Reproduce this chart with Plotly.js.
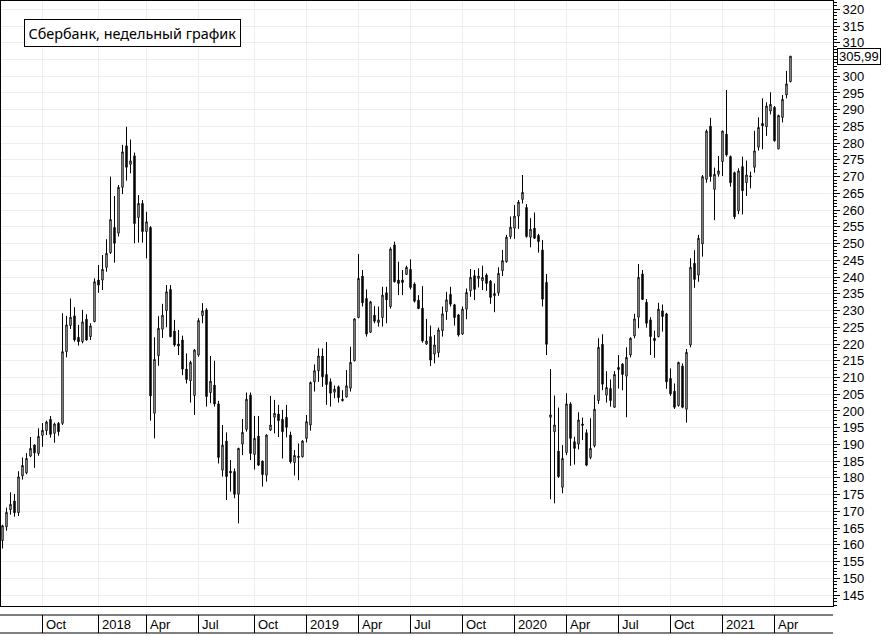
<!DOCTYPE html>
<html><head><meta charset="utf-8">
<script src="https://cdn.plot.ly/plotly-3.0.1.min.js"></script>
<style>html,body{margin:0;padding:0;background:#fff;}#chart{width:889px;height:636px;}</style>
</head><body><div id="chart"></div>
<script>
const firstWeek = '2017-07-24';
const open = [161.3,165.4,170.5,173.1,169.6,180.6,181.5,186.5,189.8,187.3,
192.7,194.1,197.5,193.3,196.3,196.3,217.7,225.5,228.4,222.0,
220.7,227.4,222.2,226.7,239.1,239.1,242.9,247.3,254.8,253.1,
266.8,279.2,273.7,276.2,257.8,262.0,253.6,254.8,199.3,216.5,
224.4,230.0,236.3,223.9,220.0,221.2,212.5,209.0,204.6,216.7,
228.5,230.2,205.5,207.7,202.1,182.3,191.0,182.0,181.9,175.1,
190.1,194.5,204.7,187.0,192.5,185.0,180.8,194.3,198.1,199.1,
197.5,198.1,192.8,184.6,186.1,186.3,191.8,195.8,208.7,212.0,
216.4,210.9,208.7,205.6,207.2,203.5,204.2,206.8,215.0,227.9,
240.3,233.6,223.5,228.6,226.4,227.9,235.3,231.2,249.6,239.1,
239.1,240.8,242.3,237.9,233.1,230.7,220.0,222.2,217.0,217.4,
224.0,229.7,234.8,231.7,228.7,223.0,230.4,235.9,240.4,239.6,
238.9,240.6,238.8,234.4,235.3,241.9,244.6,252.1,254.6,258.2,
263.2,260.8,251.9,254.6,252.4,248.1,238.4,198.1,193.8,188.0,
177.2,187.6,202.1,190.8,190.1,196.1,193.5,186.1,189.6,203.1,
219.9,204.7,206.7,201.1,213.0,214.0,210.4,216.7,222.4,228.0,
240.9,232.5,227.2,221.7,222.2,229.9,229.0,209.7,205.9,201.6,
213.4,200.5,219.7,244.1,240.6,249.9,269.2,285.1,266.2,270.7,
274.5,282.7,276.0,271.2,259.8,273.0,268.2,270.0,272.8,278.8,
285.9,284.9,289.6,290.7,278.3,287.7,294.4,298.4];
const high = [166.0,171.1,175.7,175.2,182.0,186.1,187.4,192.2,190.0,194.8,
196.4,197.1,198.5,196.5,196.7,229.2,228.4,233.6,231.0,225.7,
230.2,228.9,226.2,239.6,243.6,246.6,251.3,270.0,264.2,267.5,
279.5,284.9,281.1,277.2,264.5,263.0,259.5,255.2,222.0,228.3,
232.0,237.6,237.6,227.2,224.2,222.5,217.2,215.0,218.5,227.7,
232.2,230.7,216.4,215.0,203.0,195.8,193.6,185.3,182.8,189.0,
197.6,205.5,205.5,198.5,198.5,185.2,193.0,204.5,203.3,201.8,
200.3,201.8,193.8,188.3,190.3,191.3,198.8,208.8,213.9,218.7,
218.7,220.6,209.7,207.6,207.6,206.2,212.2,219.2,227.7,246.9,
242.1,236.3,232.9,231.3,231.2,237.1,237.1,248.9,250.6,244.6,
242.1,243.4,245.3,238.4,234.6,237.3,227.5,225.5,222.7,224.9,
231.2,235.6,237.1,232.0,229.0,231.2,236.6,242.4,242.1,242.6,
243.4,241.1,239.1,238.1,242.9,248.1,252.6,258.1,261.5,263.0,
270.5,261.8,257.6,259.3,252.9,251.1,240.9,212.5,204.6,201.0,
189.8,205.3,202.6,192.3,199.6,198.0,194.5,197.8,204.8,221.7,
222.9,211.9,209.4,211.9,216.7,214.3,219.0,222.0,229.0,243.9,
242.1,233.4,228.0,224.0,232.3,231.8,229.3,212.7,208.2,214.7,
214.2,218.5,245.6,248.0,252.6,270.5,284.1,287.6,272.7,276.2,
283.8,295.9,276.3,271.5,272.5,276.0,274.8,271.5,283.7,287.7,
293.4,292.2,295.2,291.1,288.5,294.4,301.6,306.0];
const low = [158.9,164.2,169.0,168.4,168.6,179.5,181.1,186.2,183.0,186.6,
189.3,192.8,192.0,190.5,192.6,195.8,216.0,224.5,220.7,219.5,
220.2,221.0,221.2,226.5,235.3,236.1,241.6,246.9,244.3,252.1,
264.8,268.8,271.0,250.1,250.3,250.3,245.6,197.1,191.8,213.5,
221.8,225.0,222.0,219.2,216.7,210.7,208.2,202.5,198.8,216.2,
226.2,201.3,202.3,201.3,184.3,180.4,173.4,175.9,173.9,166.4,
186.8,193.8,185.3,182.5,183.6,177.4,178.9,194.0,193.3,192.2,
185.8,192.1,184.3,180.7,179.3,186.1,190.6,194.1,205.8,208.7,
207.2,201.8,201.3,203.8,202.5,202.8,204.0,205.8,214.8,227.7,
231.2,222.2,223.3,226.2,225.2,225.2,226.2,230.6,238.4,234.6,
234.6,240.6,236.3,232.4,230.4,220.4,219.7,213.4,214.2,216.0,
222.2,227.2,231.2,225.5,222.2,222.7,227.4,234.1,233.1,236.9,
236.1,235.9,232.0,229.5,234.4,240.3,244.3,251.4,251.4,254.4,
262.0,251.8,248.9,251.4,247.3,231.2,216.7,173.6,172.4,180.0,
175.4,186.8,183.6,184.0,188.5,191.3,183.5,185.6,189.1,202.1,
206.2,202.5,201.3,200.9,206.7,206.2,198.1,216.0,221.7,224.7,
233.1,224.9,216.7,215.9,222.0,223.7,206.6,204.5,200.6,201.3,
200.8,196.5,219.0,236.8,238.6,246.1,268.2,268.5,257.0,270.0,
270.2,276.0,267.0,257.3,258.8,258.7,264.2,266.5,271.2,277.8,
278.2,282.2,288.6,280.5,278.2,286.2,293.4,298.2];
const close = [165.7,169.7,172.1,169.6,180.3,183.7,185.8,188.8,187.5,192.4,
194.2,196.7,193.0,196.1,193.8,217.7,225.7,228.0,221.2,220.7,
226.6,221.2,225.4,238.6,237.6,242.3,247.1,257.2,250.1,266.8,
277.4,272.8,274.7,256.0,262.0,253.6,256.5,204.5,215.4,224.7,
228.6,235.6,222.2,219.7,219.4,212.5,209.4,214.5,218.2,227.0,
229.9,204.3,208.9,202.1,186.1,189.8,180.4,181.5,175.1,188.8,
193.6,203.5,187.3,191.8,183.8,181.0,192.8,195.8,199.3,197.1,
193.8,195.1,184.8,186.7,186.5,191.0,196.8,208.5,212.0,216.4,
210.2,207.9,205.3,206.5,204.0,203.1,207.5,214.5,227.5,239.6,
232.3,223.0,232.6,226.8,227.2,234.6,233.2,248.4,238.6,238.1,
238.4,242.9,236.9,232.8,230.6,220.9,220.9,215.2,219.7,224.2,
229.0,233.2,231.9,227.9,222.7,230.4,235.4,239.9,236.3,240.3,
239.9,238.1,233.9,235.1,241.1,244.9,251.9,254.9,258.2,262.4,
265.3,252.1,254.3,251.6,250.6,233.4,219.9,198.8,195.8,180.4,
185.8,202.1,191.8,188.8,197.3,195.7,183.8,188.8,200.5,219.0,
208.0,207.0,203.1,210.9,212.4,210.9,216.0,221.7,227.5,239.9,
233.3,226.2,222.2,221.0,230.4,228.2,208.7,205.1,201.1,214.5,
201.1,217.5,242.9,239.3,251.6,270.0,283.6,270.0,270.7,271.7,
283.6,276.5,268.2,258.0,271.7,265.8,270.5,270.2,277.7,284.7,
285.2,291.1,291.6,280.7,288.3,293.1,297.7,305.99];
const tickWeeks = ['2017-10-02','2018-01-08','2018-04-02','2018-07-02','2018-10-08','2019-01-07','2019-04-08','2019-07-08','2019-10-07','2020-01-06','2020-04-06','2020-07-06','2020-10-05','2021-01-04','2021-04-05'];
const tickLabels = ['Oct','2018','Apr','Jul','Oct','2019','Apr','Jul','Oct','2020','Apr','Jul','Oct','2021','Apr'];
const chartTitle = 'Сбербанк, недельный график';

// weekly category labels (one per candle)
const weeks = [];
(function(){
  const d0 = Date.parse(firstWeek + 'T00:00:00Z');
  for (let i = 0; i < close.length; i++) {
    weeks.push(new Date(d0 + i * 7 * 86400000).toISOString().slice(0, 10));
  }
})();

const W = 889, H = 636;
const M = {l: 1, r: 56, t: 1, b: 30};
const plotH = H - M.t - M.b;
const plotW = W - M.l - M.r;
const stripTop = -(615 - (H - M.b)) / plotH;
const stripBot = -(633 - (H - M.b)) / plotH;
const stripMid = -(624.5 - (H - M.b)) / plotH;

const axisFont = {family: 'Liberation Sans, Arial, sans-serif', size: 13, color: '#000'};

const shapes = [
  {type: 'line', xref: 'paper', yref: 'paper', x0: -1 / plotW, x1: 1, y0: stripTop, y1: stripTop, line: {color: '#000', width: 1}},
  {type: 'line', xref: 'paper', yref: 'paper', x0: -1 / plotW, x1: 1, y0: stripBot, y1: stripBot, line: {color: '#000', width: 1}}
];
tickWeeks.forEach(function(t){
  shapes.push({type: 'line', xref: 'x', yref: 'paper', x0: t, x1: t, y0: stripBot, y1: stripTop, line: {color: '#000', width: 1}});
});

const annotations = tickWeeks.map(function(t, k){
  return {xref: 'x', yref: 'paper', x: t, y: stripMid, text: tickLabels[k], showarrow: false,
          xanchor: 'left', yanchor: 'middle', xshift: 2, font: axisFont, borderpad: 0};
});
annotations.push({xref: 'paper', yref: 'paper', x: 23 / plotW, y: (H - M.b - 19) / plotH,
  xanchor: 'left', yanchor: 'top', text: chartTitle, showarrow: false,
  font: {family: 'Noto Sans, Open Sans, sans-serif', size: 14.4, color: '#000'},
  bgcolor: '#fff', bordercolor: '#000', borderwidth: 1, borderpad: 3.5});
const last = close[close.length - 1];
annotations.push({xref: 'paper', yref: 'y', x: 1, y: last, xanchor: 'left', yanchor: 'middle', xshift: 4,
  text: last.toFixed(2).replace('.', ','), showarrow: false, font: axisFont,
  bgcolor: '#fff', bordercolor: '#000', borderwidth: 1, borderpad: 1, height: 13});

const trace = {
  type: 'candlestick', x: weeks, open: open, high: high, low: low, close: close,
  increasing: {line: {color: '#000', width: 1}, fillcolor: '#ffffff'},
  decreasing: {line: {color: '#000', width: 1}, fillcolor: '#000000'},
  whiskerwidth: 0, hoverinfo: 'none', showlegend: false
};

const layout = {
  width: W, height: H, margin: M, paper_bgcolor: '#fff', plot_bgcolor: '#fff',
  showlegend: false, boxgap: 0.5,
  xaxis: {type: 'category', range: [-0.375, 207.625], tickmode: 'array', tickvals: tickWeeks, ticktext: tickLabels,
    showticklabels: false, ticks: '', showgrid: true, gridcolor: '#eeeeee', gridwidth: 1,
    showline: true, linecolor: '#000', linewidth: 1, mirror: true, zeroline: false,
    rangeslider: {visible: false}, fixedrange: true},
  yaxis: {side: 'right', range: [141.72, 322.48], tickmode: 'linear', tick0: 145, dtick: 5,
    ticks: 'outside', ticklen: 6, tickwidth: 1, tickcolor: '#000', tickfont: axisFont,
    showgrid: true, gridcolor: '#eeeeee', gridwidth: 1, showline: true, linecolor: '#000', linewidth: 1,
    mirror: true, zeroline: false, fixedrange: true,
    minor: {tick0: 145, dtick: 1, ticks: 'outside', ticklen: 3, tickwidth: 1, tickcolor: '#000', showgrid: false}},
  shapes: shapes, annotations: annotations
};

Plotly.newPlot('chart', [trace], layout, {staticPlot: true, displayModeBar: false});
</script>
</body></html>
